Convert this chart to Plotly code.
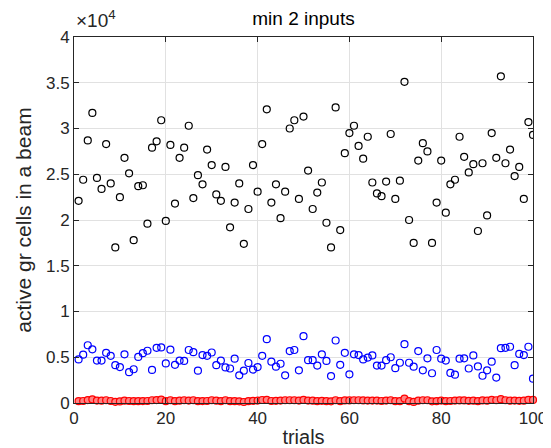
import plotly.graph_objects as go

trials = list(range(1, 101))

black_vals = [2.21, 2.44, 2.87, 3.17, 2.46, 2.34, 2.83, 2.40, 1.70, 2.25,
              2.68, 2.51, 1.78, 2.37, 2.38, 1.96, 2.79, 2.86, 3.09, 1.99,
              2.82, 2.18, 2.68, 2.79, 3.03, 2.24, 2.49, 2.39, 2.77, 2.60,
              2.28, 2.21, 2.58, 1.92, 2.19, 2.40, 1.74, 2.12, 2.60, 2.31,
              2.83, 3.21, 2.19, 2.39, 2.02, 2.31, 3.00, 3.09, 2.23, 3.13,
              2.54, 2.12, 2.30, 2.41, 1.97, 1.70, 3.23, 1.89, 2.73, 2.95,
              3.03, 2.81, 2.67, 2.91, 2.41, 2.29, 2.26, 2.42, 2.94, 2.23,
              2.43, 3.51, 2.00, 1.75, 2.65, 2.84, 2.75, 1.75, 2.19, 2.65,
              2.08, 2.39, 2.44, 2.91, 2.69, 2.52, 2.61, 1.88, 2.62, 2.05,
              2.95, 2.68, 3.57, 2.62, 2.77, 2.48, 2.58, 2.23, 3.07, 2.93]

blue_vals = [0.476, 0.528, 0.631, 0.587, 0.464, 0.464, 0.548, 0.516, 0.413, 0.393,
             0.532, 0.337, 0.369, 0.504, 0.544, 0.571, 0.361, 0.603, 0.607, 0.433,
             0.583, 0.417, 0.464, 0.460, 0.579, 0.556, 0.353, 0.524, 0.516, 0.552,
             0.413, 0.464, 0.389, 0.377, 0.484, 0.302, 0.353, 0.437, 0.365, 0.393,
             0.516, 0.698, 0.452, 0.397, 0.429, 0.302, 0.567, 0.579, 0.357, 0.730,
             0.468, 0.468, 0.409, 0.532, 0.460, 0.294, 0.683, 0.417, 0.548, 0.313,
             0.532, 0.524, 0.476, 0.496, 0.520, 0.409, 0.409, 0.468, 0.500, 0.381,
             0.440, 0.643, 0.440, 0.397, 0.567, 0.357, 0.488, 0.325, 0.579, 0.484,
             0.464, 0.329, 0.310, 0.484, 0.488, 0.377, 0.520, 0.400, 0.298, 0.357,
             0.452, 0.278, 0.599, 0.603, 0.615, 0.413, 0.536, 0.524, 0.615, 0.266]

red_vals = [200, 220, 320, 400, 260, 250, 300, 220, 130, 170,
            250, 220, 200, 200, 210, 220, 300, 320, 360, 200,
            300, 200, 250, 300, 260, 300, 200, 210, 220, 300,
            250, 200, 300, 200, 200, 180, 110, 200, 240, 260,
            330, 350, 220, 240, 260, 300, 300, 300, 260, 340,
            260, 250, 200, 240, 200, 180, 300, 200, 280, 280,
            300, 300, 280, 260, 260, 260, 220, 260, 300, 200,
            200, 480, 200, 120, 250, 300, 300, 180, 200, 260,
            200, 220, 270, 280, 280, 240, 250, 200, 280, 250,
            350, 300, 420, 300, 250, 260, 240, 250, 350, 340]

y_tick_vals = [0, 5000, 10000, 15000, 20000, 25000, 30000, 35000, 40000]
y_tick_text = ["0", "0.5", "1", "1.5", "2", "2.5", "3", "3.5", "4"]
x_tick_vals = [0, 20, 40, 60, 80, 100]

black_y = [v * 1e4 for v in black_vals]
blue_y = [v * 1e4 for v in blue_vals]

FONT = "Liberation Sans, Arial, sans-serif"
TXT = "rgb(38,38,38)"

fig = go.Figure()
fig.add_trace(go.Scatter(x=trials, y=black_y, mode="markers",
                         marker=dict(symbol="circle-open", size=7, color="black",
                                     line=dict(width=1.2, color="black")),
                         showlegend=False))
fig.add_trace(go.Scatter(x=trials, y=blue_y, mode="markers",
                         marker=dict(symbol="circle-open", size=7, color="blue",
                                     line=dict(width=1.2, color="blue")),
                         showlegend=False))
fig.add_trace(go.Scatter(x=trials, y=red_vals, mode="markers",
                         marker=dict(symbol="circle", size=7, color="rgb(255,130,130)",
                                     line=dict(width=1.2, color="red")),
                         showlegend=False, cliponaxis=False))

axis_font = dict(family=FONT, size=17, color=TXT)

fig.update_layout(
    width=551, height=448,
    margin=dict(l=66, r=17, t=29, b=36),
    paper_bgcolor="white", plot_bgcolor="white",
    font=dict(family=FONT, color=TXT),
    title=dict(text="min 2 inputs", x=0.5, xref="paper", y=1, yref="paper",
               yanchor="bottom", xanchor="center", pad=dict(b=12),
               font=dict(family=FONT, size=19, color="black")),
    xaxis=dict(range=[0, 100], tickvals=x_tick_vals, showgrid=True,
               gridcolor="rgb(225,225,225)", gridwidth=1, zeroline=False,
               showline=True, linecolor=TXT, linewidth=1, mirror="allticks",
               ticks="inside", ticklen=5, tickcolor=TXT,
               tickfont=axis_font,
               title=dict(text="trials", standoff=2,
                          font=dict(family=FONT, size=20, color=TXT))),
    yaxis=dict(range=[0, 40000], tickvals=y_tick_vals, ticktext=y_tick_text, showgrid=True,
               gridcolor="rgb(225,225,225)", gridwidth=1, zeroline=False,
               showline=True, linecolor=TXT, linewidth=1, mirror="allticks",
               ticks="inside", ticklen=5, tickcolor=TXT,
               tickfont=axis_font,
               title=dict(text="active gr cells in a beam", standoff=8,
                          font=dict(family=FONT, size=21, color=TXT))),
    annotations=[dict(text="×10<sup>4</sup>", x=0, xref="paper", y=1, yref="paper",
                      xanchor="left", yanchor="bottom", showarrow=False, yshift=4,
                      font=dict(family=FONT, size=19, color=TXT))],
)

fig.write_html("out.html")
